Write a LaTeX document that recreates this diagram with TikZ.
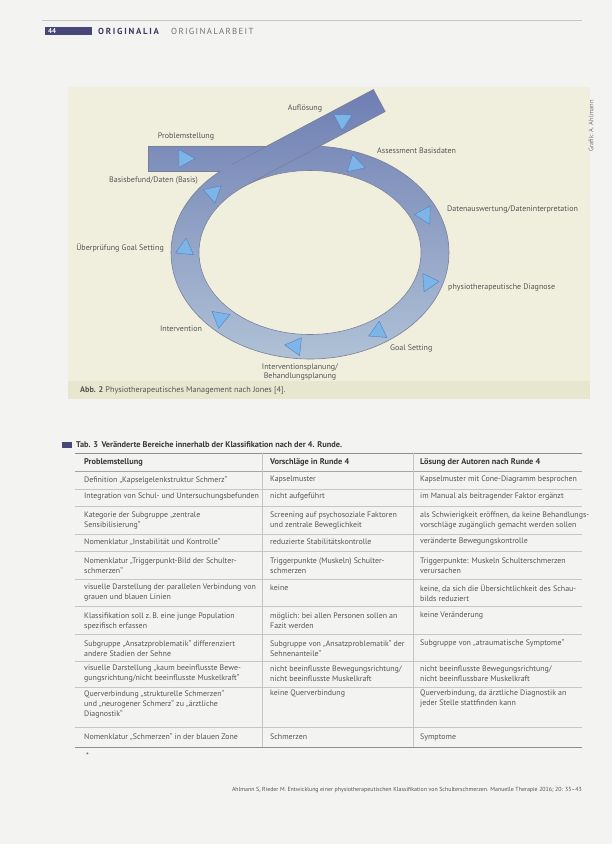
\documentclass[tikz,border=0pt]{standalone}
\usepackage{fontspec}
\setmainfont{PT Sans}
\definecolor{pagebg}{HTML}{F3F3F1}
\definecolor{figbg}{HTML}{F0EFDE}
\definecolor{capbg}{HTML}{E7E6CF}
\definecolor{bandtop}{HTML}{6E7EB3}
\definecolor{bandbot}{HTML}{B0C2D6}
\definecolor{bandedge}{HTML}{7A7F98}
\definecolor{arrfill}{HTML}{7DB5E8}
\definecolor{arredge}{HTML}{4F80C0}
\definecolor{txt}{HTML}{555555}
\definecolor{hdr}{HTML}{47477A}
\definecolor{rulec}{HTML}{C6C6C6}
\definecolor{ruled}{HTML}{8E8E8E}
\tikzset{
  lbl/.style={font=\fontsize{8}{9}\selectfont, text=txt, inner sep=0pt},
  cell/.style={font=\fontsize{7.9}{10}\selectfont, text=txt, align=left, anchor=west, inner sep=0pt},
  hcell/.style={cell, font=\bfseries\fontsize{8.3}{10}\selectfont, text=black!78},
  edge/.style={draw=bandedge, line width=0.6pt},
  flowtri/.style={fill=arrfill, draw=arredge, line width=0.4pt, line join=round},
  rowrule/.style={draw=rulec, line width=0.8pt},
  mainrule/.style={draw=ruled, line width=0.9pt}
}
\newcommand\flowarr[3]{\filldraw[flowtri, shift={(#1,#2)}, rotate=#3] (8,0) -- (-8,9) -- (-8,-9) -- cycle;}
\newcommand\bandshade{\shade[top color=bandtop, bottom color=bandbot] (140,88) rectangle (470,362);}
\begin{document}
\begin{tikzpicture}[x=1pt,y=-1pt]
\useasboundingbox (0,0) rectangle (612,844);
\fill[pagebg] (0,0) rectangle (612,844);
% header
\draw[rulec, line width=0.6pt] (42,20) -- (582,20);
\fill[hdr] (45,27) rectangle (92,35);
\node[font=\bfseries\fontsize{7}{8}\selectfont, text=white, anchor=west, inner sep=0pt] (pagenum) at (48,31) {44};
\node[font=\bfseries\fontsize{8.8}{9}\selectfont\addfontfeature{LetterSpace=20}, text=hdr!80!black, anchor=west, inner sep=0pt] (orig) at (98,31) {ORIGINALIA};
\node[font=\fontsize{8.8}{9}\selectfont\addfontfeature{LetterSpace=15}, text=black!55, anchor=west, inner sep=0pt] (origarb) at (171,31) {ORIGINALARBEIT};
% figure area
\fill[figbg] (68,87) rectangle (590,399);
\fill[capbg] (68,381) rectangle (590,399);
% ring
\begin{scope}
  \clip (310,252.5) ellipse [x radius=139pt, y radius=106.5pt];
  \bandshade
\end{scope}
\draw[edge] (310,252.5) ellipse [x radius=139pt, y radius=106.5pt];
% horizontal entry band
\begin{scope}
  \clip (148,146) rectangle (310,171);
  \bandshade
\end{scope}
\draw[edge] (220.5,171) -- (148,171) -- (148,146) -- (310,146);
% diagonal exit band
\coordinate (dA) at (232.1,164.5);
\coordinate (dB) at (243.8,186.5);
\coordinate (dC) at (385.2,111.5);
\coordinate (dD) at (373.4,89.5);
\begin{scope}
  \clip (dA) -- (dB) -- (dC) -- (dD) -- cycle;
  \bandshade
\end{scope}
\draw[edge] (dA) -- (dD) -- (dC) -- (dB);
% inner hole
\fill[figbg] (310,252.5) ellipse [x radius=111pt, y radius=82pt];
\draw[edge] (310,252.5) ellipse [x radius=111pt, y radius=82pt];
% flow arrows
\flowarr{187}{158.5}{0}
\flowarr{357.6}{165.4}{-17.3}
\flowarr{426}{217.3}{-62}
\flowarr{427.5}{284.7}{-115.8}
\flowarr{375.8}{332.7}{-155}
\flowarr{292.6}{345.8}{174}
\flowarr{218.1}{316.4}{140.7}
\flowarr{185.3}{245.9}{84.7}
\flowarr{215.1}{191.1}{41.3}
\flowarr{345}{118.7}{28}
% labels
\node[lbl] (aufl) at (305,108) {Auflösung};
\node[lbl] (prob) at (186,137) {Problemstellung};
\node[lbl, anchor=west] (assess) at (377,151) {Assessment Basisdaten};
\node[lbl, anchor=east] (basis) at (198,181) {Basisbefund/Daten (Basis)};
\node[lbl, anchor=west] (daten) at (447,209) {Datenauswertung/Dateninterpretation};
\node[lbl, anchor=east] (ueber) at (164,248) {Überprüfung Goal Setting};
\node[lbl, anchor=west] (diag) at (448,288) {physiotherapeutische Diagnose};
\node[lbl] (interv) at (181,329) {Intervention};
\node[lbl, anchor=west] (goal) at (390,348) {Goal Setting};
\node[lbl, align=center, font=\fontsize{8}{9.5}\selectfont] (plan) at (300,372) {Interventionsplanung/\\Behandlungsplanung};
\node[lbl, anchor=west, font=\fontsize{8.2}{9}\selectfont] (cap) at (80,391) {\textbf{Abb. 2} Physiotherapeutisches Management nach Jones [4].};
\node[lbl, rotate=90, font=\fontsize{6.5}{7}\selectfont, text=black!55] (credit) at (591,126) {Grafik: A. Ahlmann};
% table title
\fill[hdr] (62,442) rectangle (72,447.5);
\node[hcell] (ttitle) at (76,444.5) {Tab. 3\, Veränderte Bereiche innerhalb der Klassifikation nach der 4. Runde.};
% rules
\draw[mainrule] (75,453) -- (582,453);
\draw[draw=ruled!80, line width=0.8pt] (75,471) -- (582,471);
\foreach \yy in {489,506,534,551,579,606,634,661,687,727} {\draw[rowrule] (75,\yy) -- (582,\yy);}
\draw[mainrule] (75,747) -- (582,747);
\draw[rowrule] (262,453) -- (262,747);
\draw[rowrule] (413,453) -- (413,747);
% header row
\node[hcell] (h1) at (84,462) {Problemstellung};
\node[hcell] (h2) at (270,462) {Vorschläge in Runde 4};
\node[hcell] (h3) at (420,462) {Lösung der Autoren nach Runde 4};
% rows
\node[cell] (r1a) at (84,480) {Definition „Kapselgelenkstruktur Schmerz“};
\node[cell] (r1b) at (270,480) {Kapselmuster};
\node[cell] (r1c) at (420,480) {Kapselmuster mit Cone-Diagramm besprochen};
\node[cell] (r2a) at (84,497) {Integration von Schul- und Untersuchungsbefunden};
\node[cell] (r2b) at (270,497) {nicht aufgeführt};
\node[cell] (r2c) at (420,497) {im Manual als beitragender Faktor ergänzt};
\node[cell] (r3a) at (84,521) {Kategorie der Subgruppe „zentrale\\Sensibilisierung“};
\node[cell] (r3b) at (270,521) {Screening auf psychosoziale Faktoren\\und zentrale Beweglichkeit};
\node[cell] (r3c) at (420,521) {als Schwierigkeit eröffnen, da keine Behandlungs-\\vorschläge zugänglich gemacht werden sollen};
\node[cell] (r4a) at (84,542) {Nomenklatur „Instabilität und Kontrolle“};
\node[cell] (r4b) at (270,542) {reduzierte Stabilitätskontrolle};
\node[cell] (r4c) at (420,542) {veränderte Bewegungskontrolle};
\node[cell] (r5a) at (84,565.5) {Nomenklatur „Triggerpunkt-Bild der Schulter-\\schmerzen“};
\node[cell] (r5b) at (270,565.5) {Triggerpunkte (Muskeln) Schulter-\\schmerzen};
\node[cell] (r5c) at (420,565.5) {Triggerpunkte: Muskeln Schulterschmerzen\\verursachen};
\node[cell] (r6a) at (84,593) {visuelle Darstellung der parallelen Verbindung von\\grauen und blauen Linien};
\node[cell] (r6b) at (270,588) {keine};
\node[cell] (r6c) at (420,593) {keine, da sich die Übersichtlichkeit des Schau-\\bilds reduziert};
\node[cell] (r7a) at (84,621) {Klassifikation soll z.\,B. eine junge Population\\spezifisch erfassen};
\node[cell] (r7b) at (270,621) {möglich: bei allen Personen sollen an\\Fazit werden};
\node[cell] (r7c) at (420,616) {keine Veränderung};
\node[cell] (r8a) at (84,648) {Subgruppe „Ansatzproblematik“ differenziert\\andere Stadien der Sehne};
\node[cell] (r8b) at (270,648) {Subgruppe von „Ansatzproblematik“ der\\Sehnenanteile“};
\node[cell] (r8c) at (420,643) {Subgruppe von „atraumatische Symptome“};
\node[cell] (r9a) at (84,674) {visuelle Darstellung „kaum beeinflusste Bewe-\\gungsrichtung/nicht beeinflusste Muskelkraft“};
\node[cell] (r9b) at (270,674) {nicht beeinflusste Bewegungsrichtung/\\nicht beeinflusste Muskelkraft};
\node[cell] (r9c) at (420,674) {nicht beeinflusste Bewegungsrichtung/\\nicht beeinflussbare Muskelkraft};
\node[cell] (r10a) at (84,704) {Querverbindung „strukturelle Schmerzen“\\und „neurogener Schmerz“ zu „ärztliche\\Diagnostik“};
\node[cell] (r10b) at (270,694) {keine Querverbindung};
\node[cell] (r10c) at (420,699) {Querverbindung, da ärztliche Diagnostik an\\jeder Stelle stattfinden kann};
\node[cell] (r11a) at (84,737) {Nomenklatur „Schmerzen“ in der blauen Zone};
\node[cell] (r11b) at (270,737) {Schmerzen};
\node[cell] (r11c) at (420,737) {Symptome};
% footnote and citation
\node[cell] (star) at (86,756) {*};
\node[lbl, anchor=east, font=\fontsize{5.9}{7}\selectfont] (cite) at (582,790) {Ahlmann S, Rieder M. Entwicklung einer physiotherapeutischen Klassifikation von Schulterschmerzen. Manuelle Therapie 2016; 20: 35–43};
\end{tikzpicture}
\end{document}
